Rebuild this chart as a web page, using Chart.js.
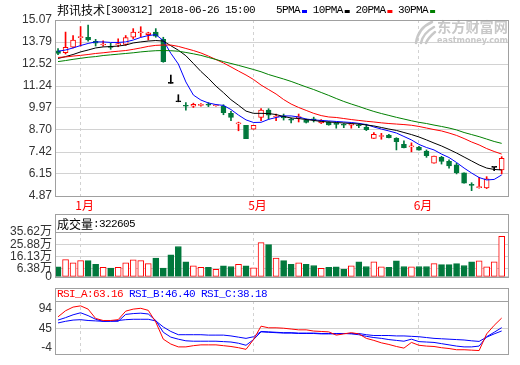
<!DOCTYPE html>
<html><head><meta charset="utf-8">
<script src="https://cdn.jsdelivr.net/npm/chart.js@4"></script>
<style>
html,body{margin:0;padding:0;background:#fff;}
#wrap{position:relative;width:520px;height:365px;overflow:hidden;background:#fff;}
canvas{position:absolute;left:0;}
</style></head><body>
<div id="wrap">
<canvas id="main" width="520" height="214" style="top:0px"></canvas>
<canvas id="vol" width="520" height="74" style="top:214px"></canvas>
<canvas id="rsi" width="520" height="77" style="top:288px"></canvas>
</div>
<script>
// ---------- data ----------
const titleText = '邦讯技术[300312] 2018-06-26 15:00';
const monthTicks = [3, 26, 48];
const monthLabels = ['1月', '5月', '6月'];
const priceTicks = [4.87, 6.15, 7.42, 8.70, 9.97, 11.24, 12.52, 13.79, 15.07];
const volTicks = [0, 6.38, 16.13, 25.88, 35.62];
const rsiTicks = [-4, 45, 94];
const maNames = ['5PMA', '10PMA', '20PMA', '30PMA'];
const rsiNames = ['RSI_A', 'RSI_B', 'RSI_C'];
const rsiCurrent = ['63.16', '46.40', '38.18'];
const volumeLatest = 322605;

const open = [13.29,13.18,13.49,14.05,14.07,13.84,13.62,13.52,13.62,13.66,
  14.07,14.33,14.22,14.37,13.95,11.40,10.33,10.10,10.07,10.12,
  10.16,10.10,10.08,9.66,9.05,8.97,8.74,9.43,9.85,9.45,
  9.50,9.30,9.41,9.27,9.31,9.10,9.14,9.05,9.00,8.97,
  8.97,8.87,8.21,8.32,8.40,8.21,7.87,7.72,7.71,7.48,
  6.77,7.11,6.88,6.67,6.22,5.51,5.36,5.34,6.53,6.38];
const high = [13.41,14.37,14.17,14.69,14.78,13.95,13.87,13.72,13.98,14.17,
  14.57,14.68,14.36,14.57,14.07,11.88,10.74,10.28,10.25,10.22,
  10.28,10.14,10.16,9.78,9.15,8.97,8.97,9.93,9.93,9.62,
  9.62,9.39,9.62,9.33,9.44,9.30,9.18,9.10,9.07,9.07,
  9.05,9.03,8.55,8.50,8.45,8.25,8.07,7.95,7.75,7.54,
  7.19,7.17,6.96,6.77,6.22,5.64,5.95,5.99,6.53,7.15];
const low = [13.06,13.10,13.45,13.56,13.85,13.56,13.56,13.37,13.52,13.60,
  13.99,14.10,13.91,14.07,12.62,11.40,10.33,9.85,10.00,10.07,
  10.05,10.07,9.58,9.23,8.65,8.19,8.74,9.23,9.32,9.23,
  9.27,9.10,9.16,9.10,9.16,9.07,8.97,8.80,8.83,8.80,
  8.83,8.66,8.21,8.16,8.24,7.54,7.66,7.43,7.52,7.11,
  6.77,6.72,6.49,6.15,5.61,5.18,5.32,5.30,6.34,6.15];
const close = [13.14,13.49,13.91,14.07,13.91,13.72,13.65,13.48,13.70,14.05,
  14.37,14.35,14.33,14.14,12.66,11.40,10.33,10.07,10.18,10.16,
  10.14,10.12,9.70,9.43,9.07,8.19,8.97,9.85,9.55,9.47,
  9.39,9.27,9.43,9.14,9.29,9.26,8.99,9.02,8.97,9.00,
  8.94,8.72,8.44,8.34,8.25,8.02,7.67,7.74,7.52,7.21,
  7.19,6.88,6.61,6.22,5.61,5.49,5.38,5.87,6.53,7.05];
const ma5 = [13.26,13.33,13.45,13.59,13.71,13.80,13.80,13.77,13.77,13.80,
  13.91,14.06,14.17,14.22,13.88,13.14,12.52,11.48,10.72,10.43,
  10.26,10.17,10.12,9.88,9.56,9.28,9.13,9.14,9.31,9.42,
  9.51,9.51,9.45,9.33,9.28,9.25,9.22,9.19,9.16,9.13,
  9.08,9.01,8.87,8.75,8.64,8.52,8.32,8.12,7.86,7.68,
  7.54,7.30,7.10,6.81,6.49,6.20,5.94,5.80,5.83,6.09];
const ma10 = [12.84,12.95,13.07,13.22,13.33,13.45,13.51,13.53,13.56,13.62,
  13.74,13.80,13.85,13.88,13.85,13.58,13.32,13.00,12.55,12.09,
  11.69,11.24,10.86,10.45,10.13,9.79,9.66,9.66,9.65,9.59,
  9.48,9.39,9.36,9.30,9.25,9.19,9.16,9.13,9.10,9.07,
  9.04,8.99,8.93,8.84,8.75,8.67,8.55,8.43,8.29,8.12,
  7.94,7.77,7.57,7.36,7.13,6.90,6.67,6.49,6.41,6.38];
const ma20 = [12.90,12.93,12.98,13.02,13.07,13.13,13.17,13.22,13.26,13.30,
  13.37,13.45,13.54,13.60,13.62,13.62,13.54,13.42,13.30,13.16,
  12.98,12.78,12.58,12.35,12.11,11.88,11.62,11.30,11.04,10.78,
  10.46,10.20,10.00,9.83,9.66,9.53,9.45,9.42,9.36,9.30,
  9.25,9.20,9.16,9.11,9.07,9.04,9.01,8.97,8.90,8.81,
  8.72,8.64,8.52,8.38,8.20,8.00,7.83,7.62,7.45,7.30];
const ma30 = [12.66,12.72,12.79,12.85,12.91,12.95,13.01,13.05,13.09,13.13,
  13.17,13.22,13.26,13.29,13.30,13.29,13.26,13.19,13.11,13.02,
  12.90,12.78,12.66,12.55,12.44,12.32,12.20,12.07,11.91,11.78,
  11.65,11.51,11.35,11.19,11.04,10.87,10.70,10.52,10.35,10.20,
  10.06,9.91,9.77,9.65,9.54,9.43,9.33,9.23,9.14,9.07,
  8.98,8.90,8.81,8.70,8.55,8.43,8.31,8.17,8.03,7.92];
const volume = [8.0,13.7,11.2,12.9,12.9,9.9,7.5,7.0,7.5,11.2,
  13.4,12.9,10.5,14.9,7.0,17.4,24.1,11.9,8.7,7.5,
  7.5,6.0,8.7,8.2,9.9,8.7,7.2,27.2,25.6,14.9,
  12.9,9.9,11.2,9.9,9.0,6.7,7.5,8.0,6.0,8.7,
  11.9,8.2,11.9,8.0,7.5,12.7,8.2,8.0,8.2,8.2,
  10.5,9.7,9.7,10.5,9.0,11.9,12.7,8.0,11.9,32.26];
const rsiA = [73,88,97,100,92,69,64,64,66,87,
  92,94,89,60,18,6,-1,-1,2,4,
  4,4,2,0,-3,-7,17,50,46,46,
  45,43,41,41,38,37,36,28,31,34,
  31,20,15,9,5,0,-4,10,3,1,
  0,-3,-5,-8,-8,-9,-10,31,52,70];
const rsiB = [65,71,78,83,76,67,62,62,62,79,
  81,82,80,64,35,23,18,14,13,13,
  13,13,12,11,8,3,17,36,35,34,
  33,33,32,32,32,31,31,31,32,31,
  29,25,22,20,17,15,13,18,12,11,
  10,7,4,1,-1,-1,1,24,35,46.4];
const rsiC = [58,62,65,66,64,63,62,63,64,66,
  67,67,67,63,48,37,29,29,29,29,
  28,28,28,26,23,20,24,37,36,35,
  34,34,33,33,33,32,32,32,32,32,
  32,29,27,27,27,26,26,25,24,22,
  20,19,18,17,16,14,12.5,23,31,38.18];

// ---------- style ----------
const UP = '#ff0000', DOWN = '#00783c', FLAT = '#000000';
const GRID = '#d2d2d2', FRAME = '#a0a0a0';
const maColors = ['#0000ff', '#000000', '#ff0000', '#008000'];
const rsiColors = ['#ff0000', '#0000ff', '#0000ff'];
const xMin = -0.27, xMax = 59.84;
const LABEL_FONT = '"Liberation Sans", "Noto Sans CJK SC", sans-serif';

const dir = close.map((c, i) => c > open[i] ? 1 : (c < open[i] ? -1 : 0));
const volDir = dir.map((d, i) => d !== 0 ? d : (i > 0 && close[i] < close[i - 1] ? -1 : 1));
const cColor = d => d > 0 ? UP : (d < 0 ? DOWN : FLAT);

function monoText(ctx, str, x, y, color) {
  ctx.fillStyle = color; ctx.textBaseline = 'middle'; ctx.textAlign = 'left';
  for (const ch of str) {
    const wide = ch.charCodeAt(0) > 0x2e80;
    ctx.font = wide ? '12px "Noto Sans CJK SC"' : '11px "Liberation Mono"';
    ctx.fillText(ch, x, y);
    x += wide ? 12 : 6;
  }
  return x;
}

function makeFrame(id, frameTop, extra) {
  return {
    id,
    afterDraw(chart) {
      const {ctx, chartArea: a} = chart;
      ctx.save();
      ctx.strokeStyle = FRAME; ctx.lineWidth = 1;
      const l = Math.round(a.left) - 0.5, r = Math.round(a.right) + 0.5;
      const t = Math.round(a.top) + 0.5, b = Math.round(a.bottom) + 0.5;
      const ft = frameTop != null ? frameTop + 0.5 : t;
      ctx.strokeRect(l, ft, r - l, b - ft);
      if (frameTop != null) { ctx.beginPath(); ctx.moveTo(l, t); ctx.lineTo(r, t); ctx.stroke(); }
      if (extra) extra(ctx, chart);
      ctx.restore();
    }
  };
}

const xScale = (show) => ({
  type: 'linear', min: xMin, max: xMax, offset: false,
  afterBuildTicks: s => { s.ticks = monthTicks.map(v => ({value: v})); },
  grid: {display: true, offset: false, color: GRID, drawTicks: false, lineWidth: 1},
  border: {display: false, dash: [3, 3]},
  ticks: show ? {display: true, autoSkip: false, maxRotation: 0, color: '#ff0000',
    font: {family: '"Noto Sans CJK SC"', size: 12}, padding: 2, labelOffset: 4,
    callback: (v, i) => monthLabels[i]} : {display: false},
  afterFit: s => { s.height = show ? 18 : 0; }
});
const yScale = (min, max, vals, fmt, gridColor) => ({
  type: 'linear', min, max, beginAtZero: false,
  afterBuildTicks: s => { s.ticks = vals.map(v => ({value: v})); },
  grid: {color: gridColor || GRID, drawTicks: false},
  border: {display: false},
  ticks: {color: '#333', font: {family: LABEL_FONT, size: 12}, padding: 4, autoSkip: false, callback: fmt},
  afterFit: s => { s.width = 56; }
});
const common = {
  responsive: false, animation: false, events: [],
  plugins: {legend: {display: false}, tooltip: {enabled: false}}
};

// ---------- main (price) chart ----------
const watermark = {
  id: 'watermark',
  beforeDatasetsDraw(chart) {
    const ctx = chart.ctx;
    ctx.save();
    ctx.strokeStyle = '#c8c8c8'; ctx.lineWidth = 2.5; ctx.lineCap = 'round';
    [[416, 432, 22], [421, 434, 27], [426, 435, 32]].forEach(([x0, x1, y1]) => {
      ctx.beginPath(); ctx.moveTo(x0, 43); ctx.quadraticCurveTo(x0 + 2, y1 + 6, x1, y1); ctx.stroke();
    });
    ctx.fillStyle = '#c8c8c8'; ctx.textBaseline = 'top'; ctx.textAlign = 'left';
    ctx.font = 'bold 14px "Noto Sans CJK SC"';
    let w = ctx.measureText('东方财富网').width;
    ctx.save(); ctx.translate(437, 20); ctx.scale(71 / w, 1); ctx.fillText('东方财富网', 0, 0); ctx.restore();
    ctx.font = 'bold 8px "DejaVu Sans"';
    w = ctx.measureText('eastmoney.com').width;
    ctx.save(); ctx.translate(437, 37); ctx.scale(71 / w, 1); ctx.fillText('eastmoney.com', 0, 0); ctx.restore();
    ctx.restore();
  }
};
const mainExtra = (ctx) => {
  monoText(ctx, titleText, 57, 10, '#000');
  let x = 276;
  maNames.forEach((n, k) => {
    x = monoText(ctx, n, x, 10, '#000');
    ctx.fillStyle = maColors[k]; ctx.fillRect(x + 2, 10, 5, 3);
    x += 12.7;
  });
};

new Chart(document.getElementById('main'), {
  type: 'bar',
  data: {datasets: [
    {type: 'bar', data: low.map((l, i) => ({x: i, y: [l, high[i]]})), backgroundColor: dir.map(cColor),
      borderWidth: 0, barThickness: 1, grouped: false, order: 4, minBarLength: 1},
    {type: 'bar', data: open.map((o, i) => ({x: i, y: [Math.min(o, close[i]), Math.max(o, close[i])]})),
      backgroundColor: dir.map(d => d > 0 ? '#ffffff' : cColor(d)), borderColor: dir.map(cColor),
      borderWidth: 1, borderSkipped: false, barThickness: 5, grouped: false, order: 3, minBarLength: 1},
    ...[ma5, ma10, ma20, ma30].map((arr, k) => ({
      type: 'line', label: maNames[k], data: arr.map((v, i) => ({x: i, y: v})),
      borderColor: maColors[k], borderWidth: 1, pointRadius: 0, tension: 0, order: 2 - k * 0.1
    }))
  ]},
  options: Object.assign({}, common, {
    layout: {padding: {left: 0, right: 12, top: 20, bottom: 0}},
    scales: {x: xScale(true), y: yScale(4.87, 15.07, priceTicks, v => v.toFixed(2))}
  }),
  plugins: [watermark, makeFrame('frameMain', null, mainExtra)]
});

// ---------- volume chart ----------
new Chart(document.getElementById('vol'), {
  type: 'bar',
  data: {datasets: [{
    data: volume.map((v, i) => ({x: i, y: v})),
    backgroundColor: volDir.map(d => d > 0 ? '#ffffff' : DOWN),
    borderColor: volDir.map(d => d > 0 ? UP : DOWN),
    borderWidth: 1, borderSkipped: false, barThickness: 6, grouped: false
  }]},
  options: Object.assign({}, common, {
    layout: {padding: {left: 0, right: 12, top: 18, bottom: 8}},
    scales: {x: xScale(false), y: yScale(0, 35.62, volTicks, v => v === 0 ? '0' : v.toFixed(2) + '万')}
  }),
  plugins: [makeFrame('frameVol', 0, ctx => monoText(ctx, '成交量:' + volumeLatest, 57, 10, '#000'))]
});

// ---------- RSI chart ----------
new Chart(document.getElementById('rsi'), {
  type: 'line',
  data: {datasets: [rsiA, rsiB, rsiC].map((arr, k) => ({
    label: rsiNames[k], data: arr.map((v, i) => ({x: i, y: v})),
    borderColor: rsiColors[k], borderWidth: 1, pointRadius: 0, tension: 0
  }))},
  options: Object.assign({}, common, {
    layout: {padding: {left: 0, right: 12, top: 13, bottom: 2}},
    scales: {x: xScale(false),
      y: yScale(-18, 112, rsiTicks, v => String(v), c => (c.tick && c.tick.value === 45) ? GRID : 'rgba(0,0,0,0)')}
  }),
  plugins: [makeFrame('frameRsi', 0, ctx => {
    let x = 57;
    rsiNames.forEach((n, k) => { x = monoText(ctx, n + ':' + rsiCurrent[k], x, 6.5, rsiColors[k]) + 6; });
  })]
});
</script>
</body></html>
